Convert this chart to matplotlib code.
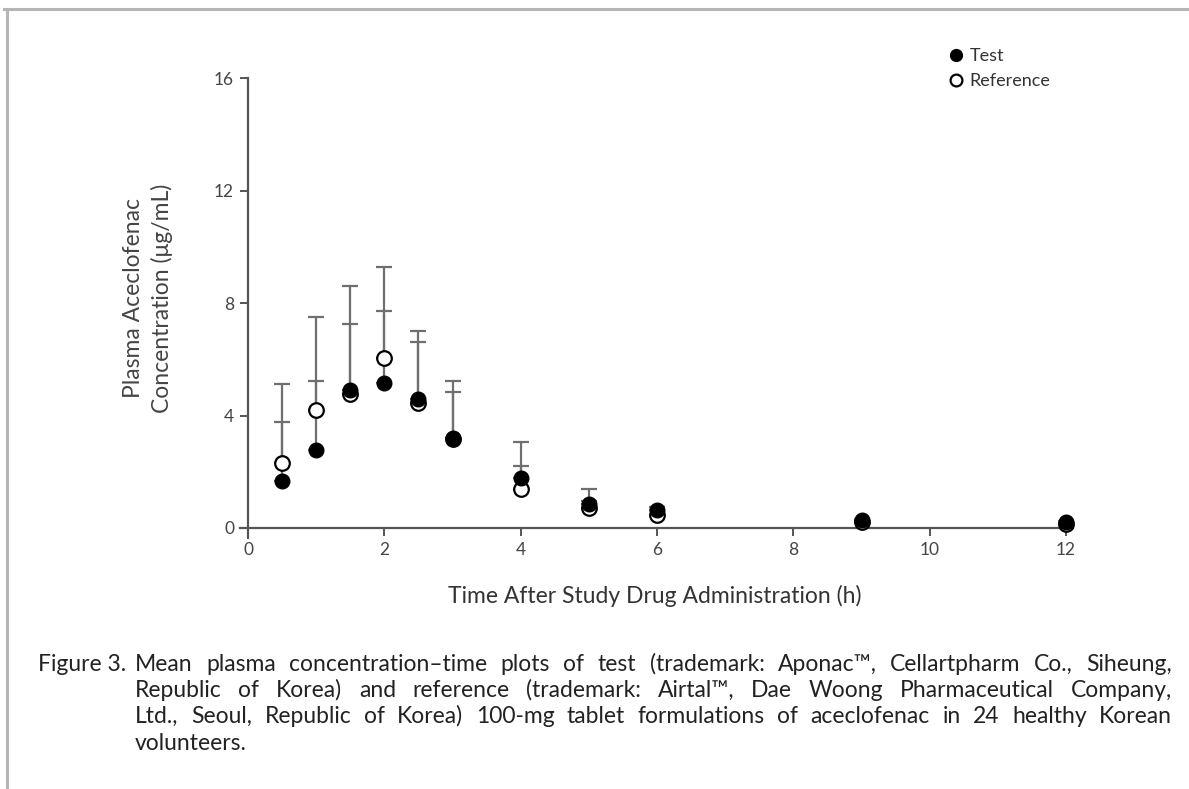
import matplotlib
matplotlib.use("Agg")
import matplotlib.pyplot as plt
from matplotlib.lines import Line2D
import numpy as np

# ---- data ----
time_h = [0.5, 1, 1.5, 2, 2.5, 3, 4, 5, 6, 9, 12]
test_mean = [1.67, 2.78, 4.91, 5.15, 4.59, 3.21, 1.79, 0.85, 0.64, 0.28, 0.20]
test_sd = [2.09, 2.45, 2.35, 2.57, 2.01, 1.62, 0.40, 0.12, 0.10, 0.05, 0.04]
ref_mean = [2.30, 4.21, 4.77, 6.03, 4.44, 3.15, 1.38, 0.70, 0.46, 0.22, 0.14]
ref_sd = [2.81, 3.29, 3.82, 3.25, 2.55, 2.06, 1.69, 0.68, 0.30, 0.10, 0.08]
x_ticks = [0, 2, 4, 6, 8, 10, 12]
y_ticks = [0, 4, 8, 12, 16]
series_labels = ["Test", "Reference"]
x_label = "Time After Study Drug Administration (h)"
y_label = "Plasma Aceclofenac\nConcentration (\u03bcg/mL)"
caption_head = "Figure 3."
caption_lines = [
    "Mean plasma concentration\u2013time plots of test (trademark: Aponac\u2122, Cellartpharm Co., Siheung,",
    "Republic of Korea) and reference (trademark: Airtal\u2122, Dae Woong Pharmaceutical Company,",
    "Ltd., Seoul, Republic of Korea) 100-mg tablet formulations of aceclofenac in 24 healthy Korean",
    "volunteers.",
]

FONT = ["Lato", "DejaVu Sans"]
plt.rcParams["font.family"] = FONT

W, H = 1189, 789
fig = plt.figure(figsize=(W / 100, H / 100), dpi=100)

def px(x, y):
    return x / W, 1 - y / H

# axes geometry
x0_px, x12_px = 248, 1066
y0_px, y16_px = 528, 78
xlo, xhi = -0.12, 12.1
ylo, yhi = -0.35, 16.0
ux = (x12_px - x0_px) / 12
uy = (y0_px - y16_px) / 16
left = x0_px + xlo * ux
right = x0_px + xhi * ux
bottom = y0_px - ylo * uy
top = y0_px - yhi * uy
ax = fig.add_axes([left / W, 1 - bottom / H, (right - left) / W, (bottom - top) / H])
ax.set_xlim(xlo, xhi)
ax.set_ylim(ylo, yhi)

axis_col = "#555555"
for s in ["top", "right"]:
    ax.spines[s].set_visible(False)
ax.spines["left"].set_position(("data", 0))
ax.spines["bottom"].set_position(("data", 0))
for s in ["left", "bottom"]:
    ax.spines[s].set_color(axis_col)
    ax.spines[s].set_linewidth(1.6)
ax.set_xticks(x_ticks)
ax.set_yticks(y_ticks)
ax.tick_params(direction="out", length=6, width=1.4, color=axis_col,
               labelsize=12.5, labelcolor="#444444", pad=4)

err_col = "#6f6f6f"
zeros = np.zeros(len(time_h))
ax.errorbar(time_h, ref_mean, yerr=[zeros, ref_sd], fmt="none", ecolor=err_col,
            elinewidth=1.6, capsize=6, capthick=1.6, zorder=2)
ax.errorbar(time_h, test_mean, yerr=[zeros, test_sd], fmt="none", ecolor=err_col,
            elinewidth=1.6, capsize=6, capthick=1.6, zorder=2)
ax.plot(time_h, ref_mean, "o", ms=10.5, mfc="white", mec="black", mew=1.6,
        ls="none", zorder=3, clip_on=False)
ax.plot(time_h, test_mean, "o", ms=10.5, mfc="black", mec="black", mew=1.0,
        ls="none", zorder=4, clip_on=False)

# axis labels
fig.text(*px(655, 596), x_label, ha="center", va="center", fontsize=16.5, color="#333333")
fig.text(*px(148, 298), y_label, ha="center", va="center", rotation=90,
         fontsize=16.5, color="#444444", linespacing=1.35)

# legend
h1 = Line2D([], [], marker="o", ls="none", ms=8.5, mfc="black", mec="black")
h2 = Line2D([], [], marker="o", ls="none", ms=8.5, mfc="white", mec="black", mew=1.6)
fig.legend([h1, h2], series_labels, loc="upper left",
           bbox_to_anchor=px(947, 48), frameon=False, fontsize=13,
           handletextpad=0.25, labelspacing=0.5, handlelength=1.0,
           borderaxespad=0, borderpad=0, labelcolor="#333333")

# frame lines (top and left)
fig.add_artist(Line2D([4 / W, 1], [1 - 9 / H, 1 - 9 / H], color="#b5b5b5", lw=2.2))
fig.add_artist(Line2D([7 / W, 7 / W], [0, 1 - 9 / H], color="#b5b5b5", lw=2.2))

# caption (justified)
cap_fs = 16.5
cap_col = "#222222"
base_ys = [671, 697, 723, 750]
fig.text(*px(38, base_ys[0]), caption_head, ha="left", va="baseline", fontsize=cap_fs, color=cap_col)
renderer = fig.canvas.get_renderer()
xl, xr = 135, 1172
for i, (line, yy) in enumerate(zip(caption_lines, base_ys)):
    words = line.split(" ")
    texts = [fig.text(0, 1 - yy / H, w, ha="left", va="baseline", fontsize=cap_fs, color=cap_col)
             for w in words]
    widths = [t.get_window_extent(renderer).width for t in texts]
    if i < len(caption_lines) - 1 and len(words) > 1:
        gap = (xr - xl - sum(widths)) / (len(words) - 1)
    else:
        gap = 6.0
    xx = xl
    for t, wdt in zip(texts, widths):
        t.set_x(xx / W)
        xx += wdt + gap

fig.savefig("out.png", dpi=100)
